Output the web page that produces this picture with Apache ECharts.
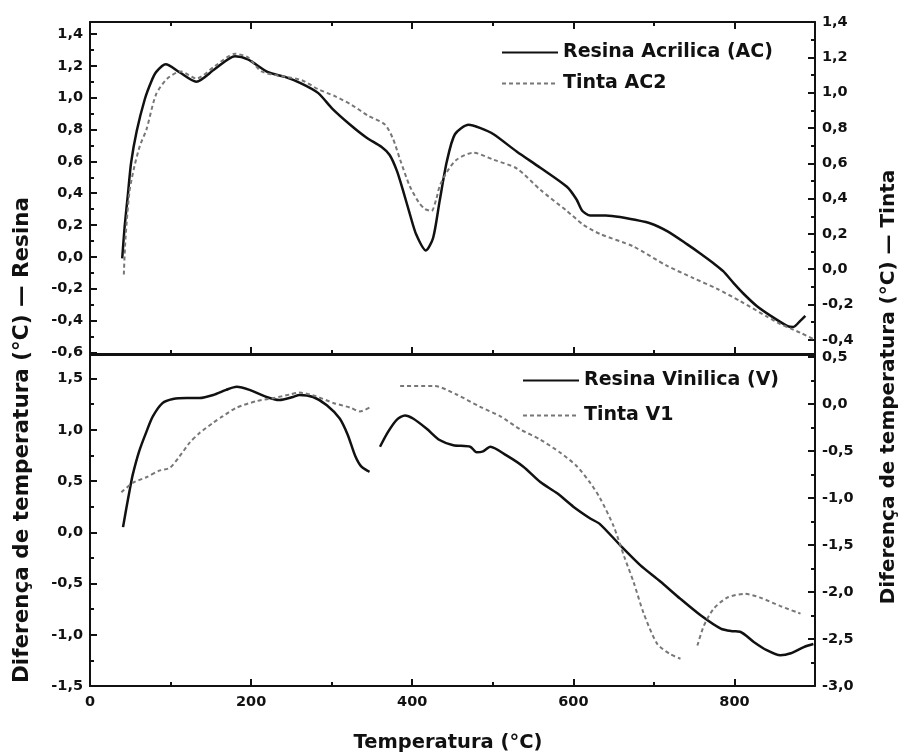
<!DOCTYPE html>
<html><head><meta charset="utf-8">
<script src="https://cdn.jsdelivr.net/npm/echarts@6/dist/echarts.min.js"></script>
<style>html,body{margin:0;padding:0;background:#fff}#c{width:905px;height:755px}</style>
</head><body><div id="c"></div>
<script>
// ---------- data ----------
// Top panel: Resina Acrilica (AC) (left axis) and Tinta AC2 (right axis)
const acResinaT = [40,43,47,51,58,68,76,82,94,111,132,155,180,196,221,242,262,283,301,323,343,362,372,381,389,397,405,417,426,434,443,453,470,484,501,530,559,592,604,611,621,640,658,696,717,741,758,774,786,799,811,828,848,866,873,882,888];
const acResinaV = [-0.01,0.19,0.39,0.59,0.79,0.99,1.10,1.16,1.21,1.16,1.10,1.18,1.26,1.24,1.16,1.13,1.09,1.03,0.93,0.83,0.75,0.69,0.64,0.54,0.41,0.27,0.14,0.04,0.12,0.35,0.60,0.77,0.83,0.81,0.77,0.66,0.56,0.44,0.36,0.29,0.26,0.26,0.25,0.21,0.16,0.08,0.02,-0.04,-0.09,-0.165,-0.23,-0.31,-0.38,-0.435,-0.44,-0.40,-0.37];
const acTintaT = [42,44,49,55,62,70,82,96,113,132,155,180,196,213,242,263,283,304,325,345,366,376,385,397,408,416,424,430,434,443,455,476,501,530,559,592,613,633,674,716,749,778,807,841,857,882,900];
const acTintaV = [-0.03,0.17,0.44,0.58,0.70,0.79,0.99,1.08,1.12,1.08,1.15,1.22,1.20,1.12,1.09,1.07,1.02,0.98,0.93,0.87,0.82,0.74,0.62,0.47,0.38,0.34,0.33,0.40,0.47,0.55,0.62,0.66,0.62,0.57,0.45,0.33,0.25,0.20,0.13,0.02,-0.05,-0.11,-0.18,-0.27,-0.31,-0.36,-0.40];

// Bottom panel: Resina Vinilica (V) (left axis) and Tinta V1 (right axis); null = gap
const vResinaT = [41,45,49,53,61,70,78,90,103,120,136,153,169,182,198,219,235,252,260,277,294,310,320,329,337,347,353,360,370,381,391,401,418,434,451,472,480,488,497,517,538,559,580,600,621,633,658,683,708,733,758,783,797,807,824,840,857,870,886,898];
const vResinaV = [0.05,0.23,0.40,0.56,0.79,0.98,1.13,1.26,1.30,1.31,1.31,1.34,1.39,1.42,1.39,1.32,1.29,1.32,1.34,1.32,1.24,1.11,0.95,0.75,0.64,0.59,null,0.835,0.98,1.10,1.14,1.11,1.01,0.90,0.85,0.835,0.78,0.79,0.835,0.75,0.64,0.49,0.38,0.25,0.135,0.08,-0.125,-0.32,-0.48,-0.65,-0.81,-0.94,-0.965,-0.97,-1.07,-1.15,-1.20,-1.18,-1.12,-1.09];
const vTintaT = [39,53,70,86,99,111,124,136,153,165,182,207,227,248,260,281,302,323,335,347,365,385,428,455,484,509,534,559,584,604,621,633,650,663,675,687,704,720,733,743,754,762,774,791,813,832,857,882];
const vTintaV = [-0.94,-0.84,-0.78,-0.71,-0.68,-0.56,-0.41,-0.31,-0.20,-0.13,-0.04,0.03,0.06,0.10,0.12,0.08,0.01,-0.04,-0.08,-0.04,null,0.19,0.19,0.10,-0.03,-0.13,-0.27,-0.38,-0.52,-0.66,-0.84,-1.00,-1.30,-1.62,-1.90,-2.22,-2.55,-2.66,-2.71,null,-2.57,-2.36,-2.18,-2.06,-2.02,-2.06,-2.15,-2.23];

// tick labels
const xTickLabels = [0,200,400,600,800];
const topLeftTicks = [-0.6,-0.4,-0.2,0.0,0.2,0.4,0.6,0.8,1.0,1.2,1.4];
const topRightTicks = [-0.4,-0.2,0.0,0.2,0.4,0.6,0.8,1.0,1.2,1.4];
const botLeftTicks = [-1.5,-1.0,-0.5,0.0,0.5,1.0,1.5];
const botRightTicks = [-3.0,-2.5,-2.0,-1.5,-1.0,-0.5,0.0,0.5];

const names = ['Resina Acrilica (AC)','Tinta AC2','Resina Vinilica (V)','Tinta V1'];
const xTitle = 'Temperatura (°C)';
const leftTitle = 'Diferença de temperatura (°C) — Resina';
const rightTitle = 'Diferença de temperatura (°C) — Tinta';

// ---------- chart ----------
const FONT = "'DejaVu Sans', Verdana, sans-serif";
const INK = '#111';
const GRAY = '#777';
const pairs = (t, v) => t.map((x, i) => [x, v[i] === null ? '-' : v[i]]);
const decFmt = list => v => {
  const hit = list.find(t => Math.abs(t - v) < 1e-6);
  return hit === undefined ? '' : hit.toFixed(1).replace('.', ',');
};
const labelStyle = {fontFamily: FONT, fontWeight: 'bold', fontSize: 14.5, color: INK};
const lineAx = {show: true, onZero: false, lineStyle: {color: INK, width: 2}};
const tickIn = {show: true, inside: true, length: 7, lineStyle: {color: INK, width: 2}};
const minorIn = {show: true, splitNumber: 2, length: 4, lineStyle: {color: INK, width: 2}};

function xAx(grid, pos, labels, ticks) {
  return {
    type: 'value', gridIndex: grid, position: pos, min: 0, max: 900, interval: 200,
    axisLine: lineAx, splitLine: {show: false},
    axisTick: ticks ? tickIn : {show: false},
    minorTick: ticks ? minorIn : {show: false},
    axisLabel: labels ? Object.assign({show: true, margin: 9,
      formatter: v => xTickLabels.includes(v) ? String(v) : ''}, labelStyle) : {show: false}
  };
}
function yAx(grid, pos, min, max, split, list) {
  return {
    type: 'value', gridIndex: grid, position: pos, min: min, max: max, splitNumber: split,
    axisLine: lineAx, splitLine: {show: false}, axisTick: tickIn, minorTick: minorIn,
    axisLabel: Object.assign({show: true, margin: 7, showMinLabel: true, showMaxLabel: true,
      formatter: decFmt(list)}, labelStyle)
  };
}

const chart = echarts.init(document.getElementById('c'), null, {renderer: 'canvas'});
const legendText = {fontFamily: FONT, fontWeight: 'bold', fontSize: 19, color: INK};
const titleStyle = (txt, size) => ({text: txt, fill: INK, font: 'bold ' + size + 'px ' + FONT,
  textAlign: 'center', textVerticalAlign: 'middle', align: 'center', verticalAlign: 'middle'});
chart.setOption({
  animation: false,
  backgroundColor: '#fff',
  grid: [
    {left: 90, right: 90, top: 22, height: 332},
    {left: 90, right: 90, top: 355, height: 331}
  ],
  xAxis: [
    xAx(0, 'bottom', false, true),
    xAx(0, 'top', false, true),
    xAx(1, 'bottom', true, true),
    xAx(1, 'top', false, false)
  ],
  yAxis: [
    yAx(0, 'left', -0.61, 1.475, 10, topLeftTicks),
    yAx(0, 'right', -0.48, 1.4, 9, topRightTicks),
    yAx(1, 'left', -1.5, 1.73, 6, botLeftTicks),
    yAx(1, 'right', -3.0, 0.52, 7, botRightTicks)
  ],
  legend: [
    {data: [names[0], names[1]], orient: 'vertical', left: 501, top: 43, padding: 0,
     itemWidth: 56, itemHeight: 14, itemGap: 12, itemStyle: {opacity: 0, borderWidth: 0},
     textStyle: legendText},
    {data: [names[2], names[3]], orient: 'vertical', left: 522, top: 371, padding: 0,
     itemWidth: 56, itemHeight: 14, itemGap: 16, itemStyle: {opacity: 0, borderWidth: 0},
     textStyle: legendText}
  ],
  series: [
    {name: names[0], type: 'line', xAxisIndex: 0, yAxisIndex: 0, data: pairs(acResinaT, acResinaV),
     symbol: 'none', smooth: 0.25, lineStyle: {color: INK, width: 2.5}, itemStyle: {color: INK}},
    {name: names[1], type: 'line', xAxisIndex: 0, yAxisIndex: 1, data: pairs(acTintaT, acTintaV),
     symbol: 'none', smooth: 0.25, lineStyle: {color: GRAY, width: 2, type: [4, 3]}, itemStyle: {color: GRAY}},
    {name: names[2], type: 'line', xAxisIndex: 2, yAxisIndex: 2, data: pairs(vResinaT, vResinaV),
     symbol: 'none', smooth: 0.25, connectNulls: false, lineStyle: {color: INK, width: 2.5}, itemStyle: {color: INK}},
    {name: names[3], type: 'line', xAxisIndex: 2, yAxisIndex: 3, data: pairs(vTintaT, vTintaV),
     symbol: 'none', smooth: 0.25, connectNulls: false, lineStyle: {color: GRAY, width: 2, type: [4, 3]}, itemStyle: {color: GRAY}}
  ],
  graphic: [
    {type: 'text', x: 22, y: 440, rotation: Math.PI / 2, style: titleStyle(leftTitle, 21.5)},
    {type: 'text', x: 889, y: 387, rotation: Math.PI / 2, style: titleStyle(rightTitle, 20)},
    {type: 'text', x: 448, y: 743, style: titleStyle(xTitle, 19.5)}
  ]
});
</script></body></html>
